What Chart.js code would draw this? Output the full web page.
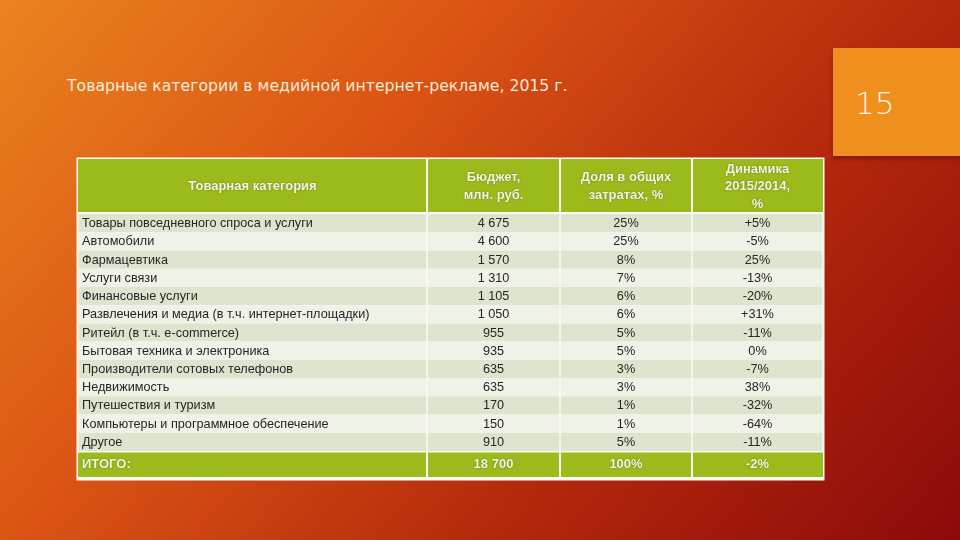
<!DOCTYPE html>
<html lang="ru">
<head>
<meta charset="utf-8">
<script src="https://cdn.jsdelivr.net/npm/chart.js@4"></script>
<style>
  html, body { margin:0; padding:0; width:960px; height:540px; overflow:hidden; }
  body {
    position:relative;
    background: linear-gradient(131deg, #e98420 0%, #dc5514 33%, #b4280c 67%, #8c0a0a 100%);
    font-family: "Liberation Sans", Arial, sans-serif;
  }
  #title {
    position:absolute; left:67px; top:76px;
    font-family: "DejaVu Sans", sans-serif; font-size:15.7px; color:#f7ead8;
    white-space:nowrap;
  }
  #pagebox {
    position:absolute; left:833px; top:48px; width:127px; height:108px;
    background:#ef8f1d; box-shadow: 0 3px 4px rgba(80,10,0,0.45);
  }
  #pagenum {
    position:absolute; left:855px; top:85px;
    font-family: "DejaVu Sans", sans-serif; font-size:31px; color:#fff6ea; font-weight:300;
  }
  canvas { position:absolute; left:0; top:0; }
</style>
</head>
<body>
<div id="title">Товарные категории в медийной интернет-рекламе, 2015 г.</div>
<div id="pagebox"></div>
<div id="pagenum">15</div>
<canvas id="c" width="960" height="540"></canvas>
<script>
// ---- data ----
const headers = [
  ["Товарная категория"],
  ["Бюджет,", "млн. руб."],
  ["Доля в общих", "затратах, %"],
  ["Динамика", "2015/2014,", "%"]
];
const categories = [
  "Товары повседневного спроса и услуги",
  "Автомобили",
  "Фармацевтика",
  "Услуги связи",
  "Финансовые услуги",
  "Развлечения и медиа (в т.ч. интернет-площадки)",
  "Ритейл (в т.ч. e-commerce)",
  "Бытовая техника и электроника",
  "Производители сотовых телефонов",
  "Недвижимость",
  "Путешествия и туризм",
  "Компьютеры и программное обеспечение",
  "Другое"
];
const budget = [4675, 4600, 1570, 1310, 1105, 1050, 955, 935, 635, 635, 170, 150, 910];
const share = [25, 25, 8, 7, 6, 6, 5, 5, 3, 3, 1, 1, 5];
const dynamics = ["+5%", "-5%", "25%", "-13%", "-20%", "+31%", "-11%", "0%", "-7%", "38%", "-32%", "-64%", "-11%"];
const totalLabel = "ИТОГО:";
const totalBudget = 18700;
const totalShare = 100;
const totalDynamics = "-2%";

// ---- layout (not data) ----
const colEdges = [0, 349, 482, 614, 745];
const fmtNum = v => String(v).replace(/\B(?=(\d{3})+(?!\d))/g, " ");
const columnTexts = [
  categories,
  budget.map(fmtNum),
  share.map(v => v + "%"),
  dynamics
];
const totalTexts = [totalLabel, fmtNum(totalBudget), totalShare + "%", totalDynamics];

const GREEN = "#9bba1b";
const DARK = "#dde5cf";
const LIGHT = "#eef2e7";
const WHITE = "#fbfcf6";

const datasets = colEdges.slice(0, 4).map((s, ci) => ({
  label: "col" + ci,
  data: categories.map(() => [colEdges[ci], colEdges[ci + 1]]),
  backgroundColor: categories.map((_, i) => i % 2 === 0 ? DARK : LIGHT),
  borderColor: WHITE,
  borderWidth: { left: 1, right: 1, top: 0, bottom: 0 },
  borderSkipped: false,
  barPercentage: 1,
  categoryPercentage: 1,
  grouped: false
}));

const tablePlugin = {
  id: "tablePlugin",
  beforeDatasetsDraw(chart) {
    const { ctx, chartArea: a, scales: { x } } = chart;
    const L = a.left, R = a.right;
    const headTop = a.top - 55, headBot = a.top - 2;
    const totTop = a.bottom + 1.5, totBot = a.bottom + 26;
    ctx.save();
    ctx.fillStyle = WHITE;
    ctx.fillRect(L - 1.5, headTop - 1.5, R - L + 3, totBot + 3.5 - headTop + 1.5);
    ctx.fillStyle = GREEN;
    ctx.fillRect(L, headTop, R - L, headBot - headTop);
    ctx.fillRect(L, totTop, R - L, totBot - totTop);
    ctx.fillStyle = WHITE;
    for (let k = 1; k < colEdges.length - 1; k++) {
      const px = x.getPixelForValue(colEdges[k]);
      ctx.fillRect(px - 1, headTop, 2, headBot - headTop);
      ctx.fillRect(px - 1, totTop, 2, totBot - totTop);
    }
    ctx.font = "bold 13px 'Liberation Sans', Arial, sans-serif";
    ctx.textAlign = "center";
    ctx.textBaseline = "middle";
    ctx.fillStyle = "#f3f6e6";
    ctx.shadowColor = "rgba(40,50,0,0.55)";
    ctx.shadowBlur = 1.5;
    headers.forEach((lines, ci) => {
      const cx = (x.getPixelForValue(colEdges[ci]) + x.getPixelForValue(colEdges[ci + 1])) / 2;
      const cy = (headTop + headBot) / 2 + 1;
      const lh = 17.5;
      lines.forEach((t, li) => {
        ctx.fillText(t, cx, cy + (li - (lines.length - 1) / 2) * lh);
      });
    });
    ctx.font = "bold 13px 'Liberation Sans', Arial, sans-serif";
    const ty = (totTop + totBot) / 2;
    totalTexts.forEach((t, ci) => {
      if (ci === 0) {
        ctx.textAlign = "left";
        ctx.fillText(t, x.getPixelForValue(colEdges[0]) + 4, ty);
      } else {
        ctx.textAlign = "center";
        ctx.fillText(t, (x.getPixelForValue(colEdges[ci]) + x.getPixelForValue(colEdges[ci + 1])) / 2, ty);
      }
    });
    ctx.restore();
  },
  afterDatasetsDraw(chart) {
    const { ctx } = chart;
    ctx.save();
    ctx.font = "12.7px 'Liberation Sans', Arial, sans-serif";
    ctx.fillStyle = "#262626";
    ctx.textBaseline = "middle";
    chart.data.datasets.forEach((ds, ci) => {
      const meta = chart.getDatasetMeta(ci);
      meta.data.forEach((el, ri) => {
        const t = columnTexts[ci][ri];
        const x0 = Math.min(el.base, el.x), x1 = Math.max(el.base, el.x);
        if (ci === 0) {
          ctx.textAlign = "left";
          ctx.fillText(t, x0 + 4, el.y + 0.5);
        } else {
          ctx.textAlign = "center";
          ctx.fillText(t, (x0 + x1) / 2, el.y + 0.5);
        }
      });
    });
    ctx.restore();
  }
};

new Chart(document.getElementById("c"), {
  type: "bar",
  data: { labels: categories, datasets },
  options: {
    indexAxis: "y",
    responsive: false,
    animation: false,
    layout: { padding: { left: 78, right: 137, top: 214, bottom: 89 } },
    scales: {
      x: { type: "linear", min: colEdges[0], max: colEdges[colEdges.length - 1], display: false },
      y: { type: "category", display: false, offset: true }
    },
    plugins: { legend: { display: false }, tooltip: { enabled: false } }
  },
  plugins: [tablePlugin]
});
</script>
</body>
</html>
